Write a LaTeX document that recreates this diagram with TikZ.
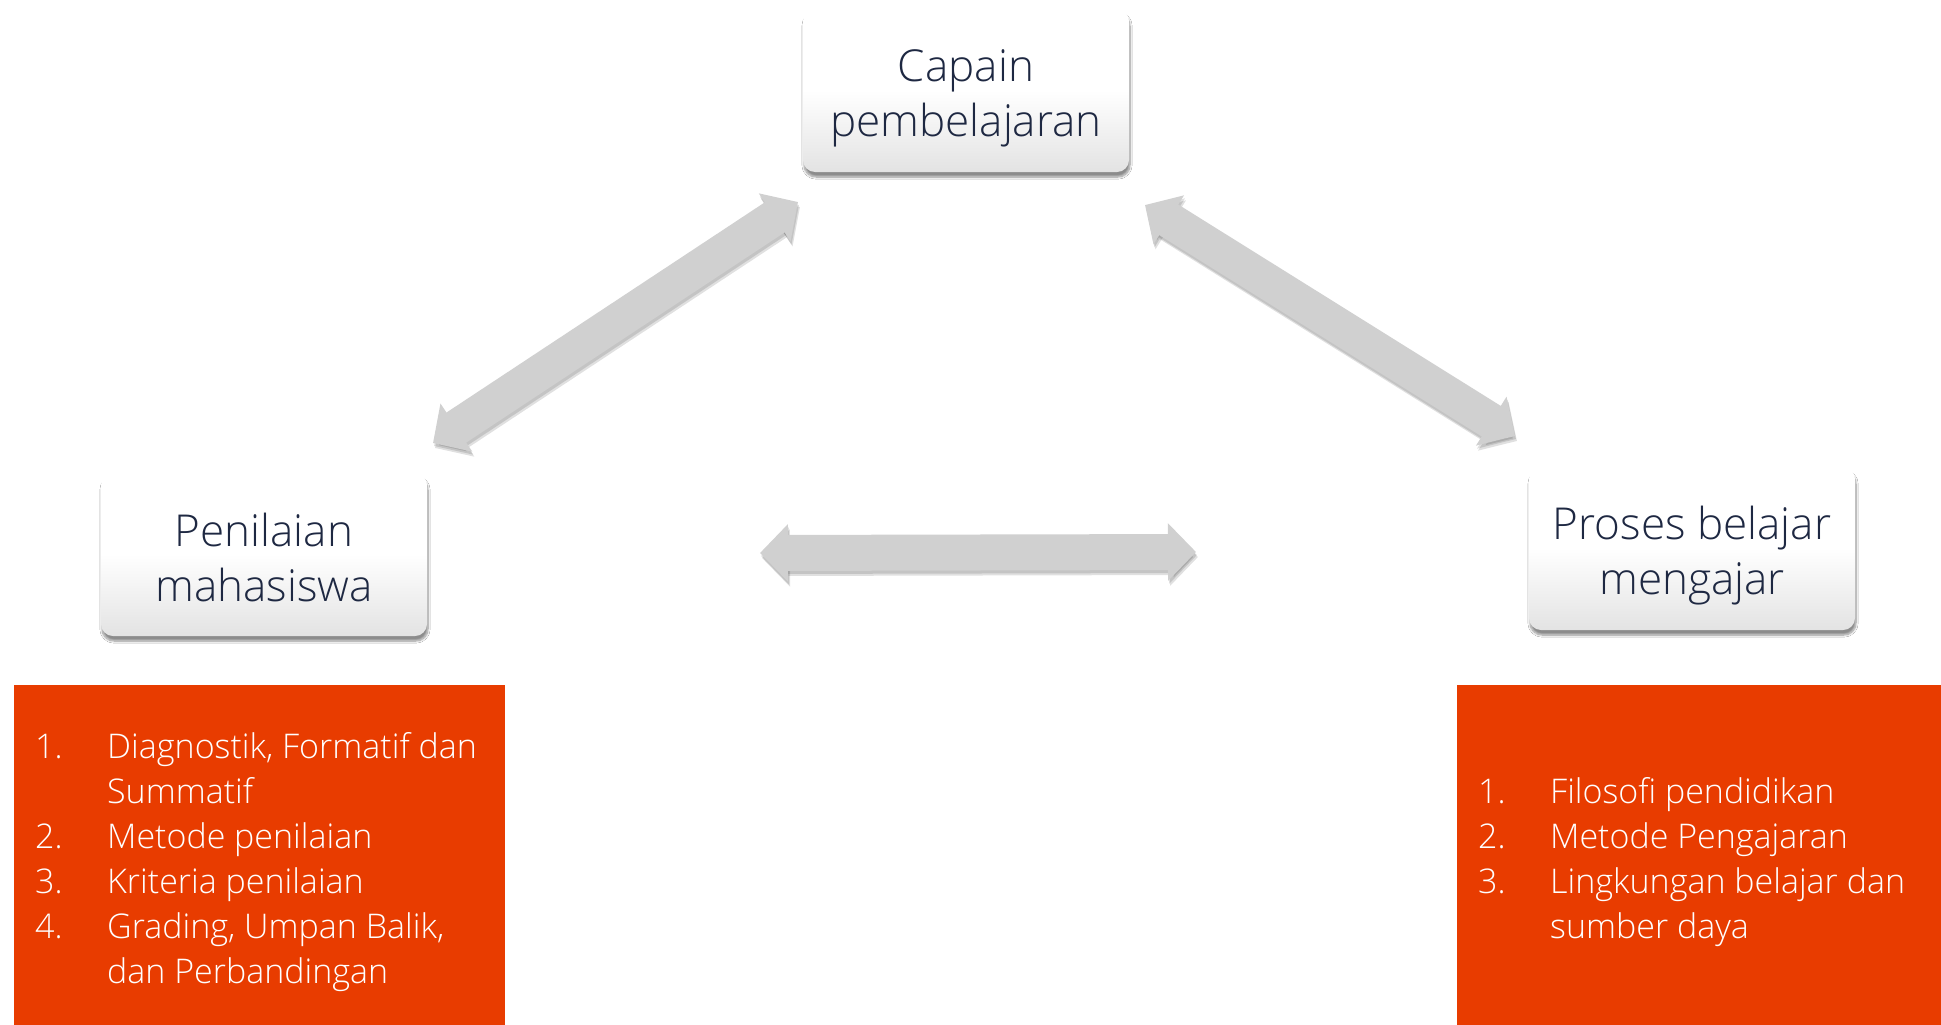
\documentclass[tikz,border=0pt]{standalone}
\usepackage{fontspec}
\setmainfont{Open Sans Light}
\usetikzlibrary{arrows.meta,shadows.blur}
\definecolor{tinta}{RGB}{30,40,66}
\definecolor{jingga}{RGB}{232,60,0}
\definecolor{abu}{RGB}{208,208,208}
\newcommand\baris[2]{\rule{0pt}{48pt}#1\\#2\rule[-10pt]{0pt}{10pt}}
\tikzset{
  kotak/.style={rectangle, rounded corners=12pt, inner sep=0pt, align=center,
    minimum width=326pt, minimum height=163pt, text=tinta, top color=white,
    bottom color=black!11, middle color=white, font=\fontsize{44}{55}\selectfont,
    blur shadow={shadow xshift=1pt, shadow yshift=-5pt, shadow blur steps=8, shadow opacity=45}},
  panah/.style={line width=36pt, abu, {Triangle[width=56pt,length=28pt]}-{Triangle[width=56pt,length=28pt]}},
  bayang/.style={panah, black, opacity=0.12},
  daftar/.style={inner sep=0pt, anchor=base west, text=white, font=\fontsize{34}{45}\selectfont}
}
\begin{document}
\begin{tikzpicture}[x=1pt,y=-1pt]
\useasboundingbox[fill=white] (0,0) rectangle (1941,1025);
\node[kotak] (cap) at (966,90.5) {\baris{Capain}{pembelajaran}};
\node[kotak] (pen) at (264,554.5) {\baris{Penilaian}{mahasiswa}};
\node[kotak] (pro) at (1692,548.5) {\baris{Proses belajar}{mengajar}};
\coordinate (pc1) at (433,443);
\coordinate (pc2) at (798,202);
\coordinate (cp1) at (1145,205);
\coordinate (cp2) at (1515,436);
\coordinate (pp1) at (760,553);
\coordinate (pp2) at (1196,552);
\foreach \a/\b in {pc1/pc2, cp1/cp2, pp1/pp2} {
  \draw[bayang] ([shift={(2,5)}]\a) -- ([shift={(2,5)}]\b);
  \draw[bayang] ([shift={(1,3)}]\a) -- ([shift={(1,3)}]\b);
  \draw[panah] (\a) -- (\b);
}
\fill[jingga] (14,685) rectangle (505,1025);
\fill[jingga] (1457,685) rectangle (1941,1025);
\node[daftar] (lpen) at (35,758) {\begin{tabular}[t]{@{}p{72pt}@{}l@{}}
1. & Diagnostik, Formatif dan\\
   & Summatif\\
2. & Metode penilaian\\
3. & Kriteria penilaian\\
4. & Grading, Umpan Balik,\\
   & dan Perbandingan
\end{tabular}};
\node[daftar] (lpro) at (1478,803) {\begin{tabular}[t]{@{}p{72pt}@{}l@{}}
1. & Filosofi pendidikan\\
2. & Metode Pengajaran\\
3. & Lingkungan belajar dan\\
   & sumber daya
\end{tabular}};
\end{tikzpicture}
\end{document}
